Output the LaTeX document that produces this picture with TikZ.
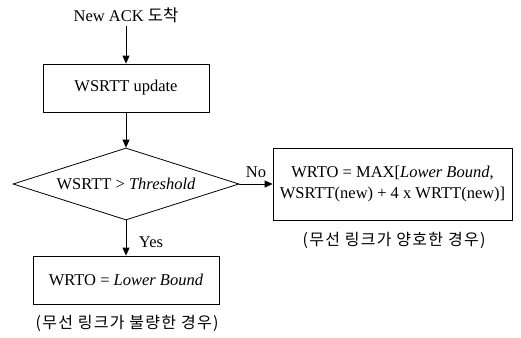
\documentclass[tikz,border=0pt]{standalone}
\usepackage{fontspec}
\setmainfont{Liberation Serif}
\newfontfamily\krfont{Noto Sans CJK KR}
\newfontfamily\krnote[LetterSpace=8]{Noto Sans CJK KR}
\usetikzlibrary{arrows.meta, positioning, shapes.geometric}

\begin{document}
\begin{tikzpicture}[
    x=1pt, y=-1pt,
    >={Triangle[length=8pt, width=7pt]},
    every node/.style={font=\fontsize{16.5}{20}\selectfont},
    flow/.style={->, line width=0.8pt},
    procbox/.style={draw, line width=0.8pt, rectangle, inner sep=0pt, align=center},
    testbox/.style={draw, line width=0.8pt, diamond, aspect=3.14, inner sep=0pt,
        minimum width=226pt, minimum height=72pt},
    casenote/.style={font=\fontsize{16}{19}\krnote}
]

\useasboundingbox (0,0) rectangle (521,337);

% =============================================
% Start and update
% =============================================

\node (ack) at (126, 15) {New ACK {\krfont 도착}};

\node[procbox, minimum width=166pt, minimum height=48pt] (upd) at (126, 88)
    {WSRTT update};

\draw[flow] (ack) -- (upd);

% =============================================
% Threshold test
% =============================================

\node[testbox] (test) at (126, 184) {WSRTT > \textit{Threshold}};

\draw[flow] (upd) -- (test);

% No branch (good link)
\node[procbox, minimum width=239pt, minimum height=72pt] (good) at (392.5, 184)
    {WRTO = MAX[\textit{Lower Bound},\\[1pt] WSRTT(new) + 4 x WRTT(new)]};
\draw[flow] (test.east) -- (good.west);
\node (no) at (256, 172) {No};
\node[casenote] (goodnote) at (394, 240) {(무선 링크가 양호한 경우)};

% Yes branch (bad link)
\node[procbox, minimum width=186pt, minimum height=48pt] (bad) at (126, 280)
    {WRTO = \textit{Lower Bound}};
\draw[flow] (test.south) -- (bad.north);
\node (yes) at (151, 242) {Yes};
\node[casenote] (badnote) at (127, 323) {(무선 링크가 불량한 경우)};

\end{tikzpicture}
\end{document}
